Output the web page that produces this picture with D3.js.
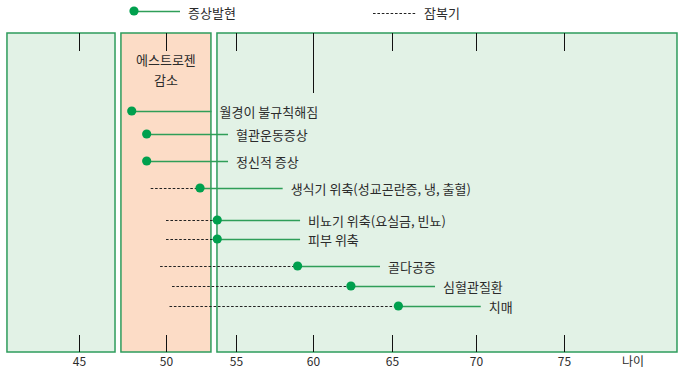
<!DOCTYPE html>
<html>
<head>
<meta charset="utf-8">
<script src="https://cdn.jsdelivr.net/npm/d3@7"></script>
<style>
  body { margin: 0; background: #fff; }
  text { font-family: "Noto Sans CJK KR", "Noto Sans", sans-serif; fill: #2b2b2b; }
</style>
</head>
<body>
<div id="chart"></div>
<script>
// ---- data ----
const ageTicks = [45, 50, 55, 60, 65, 70, 75];
const longTickAge = 60;

// life phases (age ranges)
const phaseNames = ["premenopause", "menopause", "postmenopause"];
const phaseFrom = [40.86, 47.41, 53.64];
const phaseTo = [47.07, 53.21, 81.42];
const phaseLabel = ["", "에스트로젠\n감소", ""];

// symptoms
const eventNames = ["월경이 불규칙해짐", "혈관운동증상", "정신적 증상",
  "생식기 위축(성교곤란증, 냉, 출혈)", "비뇨기 위축(요실금, 빈뇨)", "피부 위축",
  "골다공증", "심혈관질환", "치매"];
const latentStart = [null, null, null, 49.12, 50.0, 50.0, 49.66, 50.43, 50.25];
const onsetAge = [48.03, 48.89, 48.89, 52.43, 53.66, 53.66, 59.0, 62.4, 65.38];
const labelAge = [53.25, 54.43, 54.43, 58.03, 59.16, 59.16, 64.24, 67.56, 70.27];

const legendItems = ["증상발현", "잠복기"];

// ---- setup ----
const W = 687, H = 376;
const topY = 33, bottomY = 352;
const dotColor = "#00a04e", lineColor = "#2f9e58", borderColor = "#2e9c5c";
const fills = {premenopause: "#e2f2e6", menopause: "#fcdcc6", postmenopause: "#e2f2e6"};

const svg = d3.select("#chart").append("svg")
  .attr("width", W).attr("height", H);

// age scale (the original axis is drawn unevenly)
const x = d3.scaleLinear()
  .domain(ageTicks)
  .range([79, 166, 236, 313, 392, 476, 564]);

// row positions
const y = d3.scaleLinear()
  .domain(d3.range(eventNames.length))
  .range([111, 134, 161, 188, 220, 239, 266, 286, 306]);

//////////
// PANELS
//////////
svg.selectAll("rect.phase")
  .data(phaseNames)
  .enter().append("rect")
  .attr("class", "phase")
  .attr("x", (d, i) => x(phaseFrom[i]))
  .attr("y", topY)
  .attr("width", (d, i) => x(phaseTo[i]) - x(phaseFrom[i]))
  .attr("height", bottomY - topY)
  .attr("fill", d => fills[d])
  .attr("stroke", borderColor)
  .attr("stroke-width", 1.5);

//////////
// AXES
//////////
const topAxis = svg.append("g")
  .attr("transform", "translate(0," + topY + ")")
  .call(d3.axisBottom(x).tickValues(ageTicks).tickSize(18).tickFormat(""));
topAxis.select(".domain").remove();
topAxis.selectAll(".tick line")
  .attr("stroke", "#111")
  .attr("y2", d => d === longTickAge ? 60 : 18);

const bottomAxis = svg.append("g")
  .attr("transform", "translate(0," + bottomY + ")")
  .call(d3.axisBottom(x).tickValues(ageTicks).tickSizeInner(-17).tickSizeOuter(0).tickPadding(5));
bottomAxis.select(".domain").remove();
bottomAxis.selectAll(".tick line").attr("stroke", "#111");
bottomAxis.selectAll(".tick text")
  .attr("fill", "#2b2b2b")
  .style("font-size", "12px");

svg.append("text")
  .attr("x", 633).attr("y", 366)
  .attr("text-anchor", "middle")
  .style("font-size", "12px")
  .text("나이");

// phase label
phaseLabel.forEach((lab, i) => {
  if (!lab) return;
  const cx = (x(phaseFrom[i]) + x(phaseTo[i])) / 2;
  lab.split("\n").forEach((line, j) => {
    svg.append("text")
      .attr("x", cx).attr("y", 65 + j * 20)
      .attr("text-anchor", "middle")
      .style("font-size", "13px")
      .text(line);
  });
});

//////////
// EVENTS
//////////
const ev = svg.selectAll("g.event")
  .data(eventNames)
  .enter().append("g")
  .attr("class", "event");

// latency (dashed)
ev.filter((d, i) => latentStart[i] !== null)
  .append("line")
  .attr("x1", d => x(latentStart[eventNames.indexOf(d)]))
  .attr("x2", d => x(onsetAge[eventNames.indexOf(d)]))
  .attr("y1", d => y(eventNames.indexOf(d)) + 0.5)
  .attr("y2", d => y(eventNames.indexOf(d)) + 0.5)
  .attr("stroke", "#222")
  .attr("stroke-width", 1)
  .attr("stroke-dasharray", "2.6,1.8");

// onset line
ev.append("line")
  .attr("x1", (d, i) => x(onsetAge[i]))
  .attr("x2", (d, i) => x(labelAge[i]))
  .attr("y1", (d, i) => y(i) + 0.5)
  .attr("y2", (d, i) => y(i) + 0.5)
  .attr("stroke", lineColor)
  .attr("stroke-width", 1.5);

ev.append("circle")
  .attr("cx", (d, i) => x(onsetAge[i]))
  .attr("cy", (d, i) => y(i))
  .attr("r", 4.6)
  .attr("fill", dotColor);

ev.append("text")
  .attr("x", (d, i) => x(labelAge[i]) + 8)
  .attr("y", (d, i) => y(i))
  .attr("dominant-baseline", "central")
  .style("font-size", "13px")
  .text(d => d);

//////////
// LEGEND
//////////
svg.append("line")
  .attr("x1", 134).attr("x2", 180).attr("y1", 11.5).attr("y2", 11.5)
  .attr("stroke", lineColor).attr("stroke-width", 1.5);
svg.append("circle")
  .attr("cx", 134).attr("cy", 11).attr("r", 4.6).attr("fill", dotColor);
svg.append("text")
  .attr("x", 188).attr("y", 12)
  .attr("dominant-baseline", "central")
  .style("font-size", "13px")
  .text(legendItems[0]);

svg.append("line")
  .attr("x1", 373).attr("x2", 416).attr("y1", 13.5).attr("y2", 13.5)
  .attr("stroke", "#222").attr("stroke-width", 1)
  .attr("stroke-dasharray", "2.6,1.8");
svg.append("text")
  .attr("x", 424).attr("y", 12)
  .attr("dominant-baseline", "central")
  .style("font-size", "13px")
  .text(legendItems[1]);
</script>
</body>
</html>
